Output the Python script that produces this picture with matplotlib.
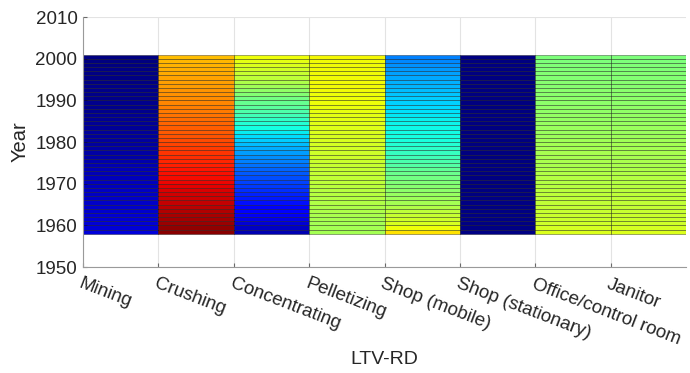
import numpy as np
import matplotlib
matplotlib.use("Agg")
import matplotlib.pyplot as plt

plt.rcParams['font.family'] = ['Liberation Sans', 'DejaVu Sans']

categories = ["Mining", "Crushing", "Concentrating", "Pelletizing",
              "Shop (mobile)", "Shop (stationary)", "Office/control room", "Janitor"]

# year rows (each row spans [year, year + 1])
years = list(range(1958, 2001))

# normalised exposure level per category, 1958 -> 2000
mining = [0.080, 0.078, 0.076, 0.074, 0.072, 0.070, 0.068, 0.066, 0.064, 0.062,
          0.060, 0.058, 0.056, 0.053, 0.050, 0.047, 0.044, 0.041, 0.038, 0.035,
          0.032, 0.030, 0.028, 0.026, 0.024, 0.022, 0.020, 0.018, 0.016, 0.014,
          0.013, 0.012, 0.011, 0.010, 0.009, 0.008, 0.007, 0.006, 0.005, 0.004,
          0.003, 0.002, 0.001]
crushing = [0.990, 0.982, 0.975, 0.968, 0.961, 0.954, 0.947, 0.940, 0.933, 0.926,
            0.919, 0.912, 0.905, 0.898, 0.891, 0.884, 0.877, 0.870, 0.862, 0.854,
            0.846, 0.838, 0.830, 0.823, 0.816, 0.809, 0.802, 0.795, 0.788, 0.781,
            0.774, 0.767, 0.760, 0.755, 0.750, 0.745, 0.740, 0.735, 0.730, 0.725,
            0.720, 0.715, 0.710]
concentrating = [0.044, 0.060, 0.077, 0.090, 0.102, 0.114, 0.126, 0.140, 0.150, 0.160,
                 0.170, 0.180, 0.190, 0.202, 0.214, 0.226, 0.238, 0.250, 0.265, 0.280,
                 0.295, 0.310, 0.325, 0.342, 0.359, 0.376, 0.393, 0.410, 0.426, 0.442,
                 0.458, 0.474, 0.490, 0.508, 0.526, 0.544, 0.562, 0.580, 0.592, 0.604,
                 0.616, 0.628, 0.640]
pelletizing = [0.550, 0.550, 0.550, 0.553, 0.556, 0.559, 0.562, 0.565, 0.568, 0.571,
               0.574, 0.577, 0.580, 0.583, 0.586, 0.589, 0.592, 0.595, 0.598, 0.601,
               0.604, 0.607, 0.610, 0.613, 0.616, 0.619, 0.622, 0.625, 0.628, 0.631,
               0.634, 0.637, 0.640, 0.640, 0.641, 0.641, 0.642, 0.642, 0.643, 0.643,
               0.644, 0.644, 0.645]
shop_mobile = [0.670, 0.640, 0.610, 0.600, 0.590, 0.580, 0.565, 0.550, 0.541, 0.532,
               0.523, 0.514, 0.505, 0.492, 0.479, 0.466, 0.453, 0.440, 0.428, 0.416,
               0.404, 0.392, 0.380, 0.376, 0.372, 0.368, 0.364, 0.360, 0.353, 0.346,
               0.339, 0.332, 0.325, 0.318, 0.311, 0.304, 0.297, 0.290, 0.282, 0.274,
               0.266, 0.258, 0.250]
shop_stationary = [0.006, 0.006, 0.005, 0.005, 0.005, 0.004, 0.004, 0.004, 0.004, 0.003,
                   0.003, 0.003, 0.003, 0.003, 0.002, 0.002, 0.002, 0.002, 0.002, 0.002,
                   0.002, 0.001, 0.001, 0.001, 0.001, 0.001, 0.001, 0.001, 0.001, 0.001,
                   0.000, 0.000, 0.000, 0.000, 0.000, 0.000, 0.000, 0.000, 0.000, 0.000,
                   0.000, 0.000, 0.000]
office = [0.615, 0.607, 0.600, 0.597, 0.594, 0.591, 0.588, 0.585, 0.582, 0.579,
          0.576, 0.573, 0.570, 0.567, 0.564, 0.561, 0.558, 0.555, 0.553, 0.551,
          0.549, 0.547, 0.545, 0.542, 0.539, 0.536, 0.533, 0.530, 0.528, 0.526,
          0.524, 0.522, 0.520, 0.518, 0.516, 0.514, 0.512, 0.510, 0.508, 0.506,
          0.504, 0.502, 0.500]
janitor = [0.615, 0.607, 0.600, 0.597, 0.594, 0.591, 0.588, 0.585, 0.582, 0.579,
           0.576, 0.573, 0.570, 0.567, 0.564, 0.561, 0.558, 0.555, 0.553, 0.551,
           0.549, 0.547, 0.545, 0.542, 0.539, 0.536, 0.533, 0.530, 0.528, 0.526,
           0.524, 0.522, 0.520, 0.518, 0.516, 0.514, 0.512, 0.510, 0.508, 0.506,
           0.504, 0.502, 0.500]

y_ticks = [1950, 1960, 1970, 1980, 1990, 2000, 2010]

Z = np.column_stack([mining, crushing, concentrating, pelletizing,
                     shop_mobile, shop_stationary, office, janitor])
x_edges = np.arange(1, len(categories) + 2)
y_edges = np.append(years, years[-1] + 1)

fig = plt.figure(figsize=(6.9, 3.73), dpi=100)
ax = fig.add_axes([0.1203, 0.284, 0.874, 0.670])

ax.pcolormesh(x_edges, y_edges, Z, cmap='jet', vmin=0, vmax=1,
              edgecolors=(0, 0, 0, 0.55), linewidth=0.45, antialiased=True,
              zorder=2)

ax.set_xlim(1, len(categories) + 1)
ax.set_ylim(1950, 2010)
ax.set_yticks(y_ticks)
ax.set_xticks(np.arange(1, len(categories) + 1))
ax.set_xticklabels(categories, rotation=-21, ha='left', va='top',
                   rotation_mode='anchor')

ax.grid(True, color='#e3e3e3', linewidth=0.8, zorder=0)
ax.set_axisbelow(True)
for side in ('top', 'right'):
    ax.spines[side].set_visible(False)
for side in ('left', 'bottom'):
    ax.spines[side].set_color('#9a9a9a')
    ax.spines[side].set_linewidth(0.8)

ax.tick_params(axis='both', direction='in', length=3, width=0.8,
               color='#6a6a6a', labelcolor='#262626', labelsize=13.5)
ax.tick_params(axis='y', pad=4)
ax.tick_params(axis='x', pad=6)

ax.set_ylabel("Year", fontsize=14.5, color='#262626', labelpad=4)
ax.set_xlabel("LTV-RD", fontsize=14, color='#262626', labelpad=2)

fig.savefig("out.png", dpi=100)
